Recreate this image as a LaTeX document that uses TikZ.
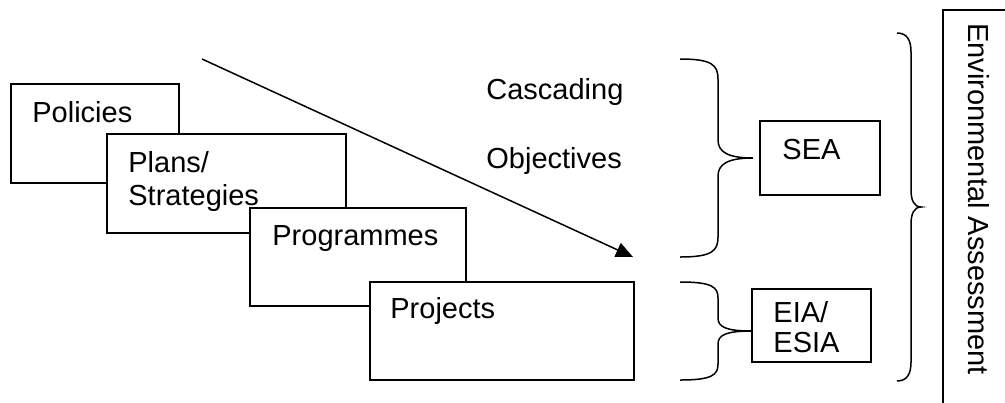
\documentclass[tikz,border=0pt]{standalone}
\usepackage{fontspec}
\setmainfont{Liberation Sans}
\usetikzlibrary{arrows.meta}
\begin{document}
\begin{tikzpicture}[x=0.5pt,y=-0.5pt,
  every node/.style={font=\fontsize{14.5}{16.5}\selectfont},
  box/.style={draw=black,fill=white,line width=0.75pt,inner sep=0pt},
  lbl/.style={inner sep=0pt,anchor=base west},
  brace line/.style={draw=black,line width=0.75pt},
  flow/.style={draw=black,line width=0.75pt,-{Triangle[length=8.5pt,width=7.5pt]}}]
\useasboundingbox (0,0) rectangle (1005,402);
\fill[white] (0,0) rectangle (1005,402);
% stepped boxes
\node[box,minimum width=84pt,minimum height=49.5pt] (policies) at (95,133.5) {};
\node[box,minimum width=119.5pt,minimum height=49.5pt] (plans) at (226.5,183.5) {};
\node[box,minimum width=108pt,minimum height=49pt] (programmes) at (358,257) {};
\node[box,minimum width=132pt,minimum height=49pt] (projects) at (502,331) {};
\node[lbl] (tpolicies) at (32,122) {Policies};
\node[lbl] (tplans1) at (128,172) {Plans/};
\node[lbl] (tplans2) at (128,205) {Strategies};
\node[lbl] (tprog) at (272,245) {Programmes};
\node[lbl] (tproj) at (390,318) {Projects};
% cascading arrow
\coordinate (astart) at (202,59);
\coordinate (aend) at (633,257);
\draw[flow] (astart) -- (aend);
\node[lbl] (tcasc) at (486,99) {Cascading};
\node[lbl] (tobj) at (486,168) {Objectives};
% SEA / EIA boxes
\node[box,minimum width=60pt,minimum height=37pt] (sea) at (820,158) {};
\node[lbl] (tsea) at (782,159) {SEA};
\node[box,minimum width=59.5pt,minimum height=36.5pt] (eia) at (811.5,325.5) {};
\node[lbl] (teia1) at (773,322) {EIA/};
\node[lbl] (teia2) at (773,352) {ESIA};
% braces
\draw[brace line] (680,59) .. controls (712,59) and (718,65) .. (718,79) -- (718,140)
  .. controls (718,152) and (728,158) .. (753,158)
  .. controls (728,158) and (718,164) .. (718,176) -- (718,237)
  .. controls (718,251) and (712,257) .. (680,257);
\draw[brace line] (680,282) .. controls (712,282) and (718,287) .. (718,298) -- (718,318)
  .. controls (718,327) and (726,331) .. (752,331)
  .. controls (726,331) and (718,335) .. (718,344) -- (718,364)
  .. controls (718,375) and (712,380) .. (680,380);
\draw[brace line] (897,33) .. controls (907,33) and (911,40) .. (911,52) -- (911,190)
  .. controls (911,200) and (914,207) .. (921,207)
  .. controls (914,207) and (911,214) .. (911,224) -- (911,362)
  .. controls (911,374) and (907,381) .. (897,381);
% Environmental Assessment box
\node[box,minimum width=36pt,minimum height=202.5pt] (ea) at (979,212.5) {};
\node[lbl,rotate=-90] (tea) at (968,23) {Environmental Assessment};
\end{tikzpicture}
\end{document}
